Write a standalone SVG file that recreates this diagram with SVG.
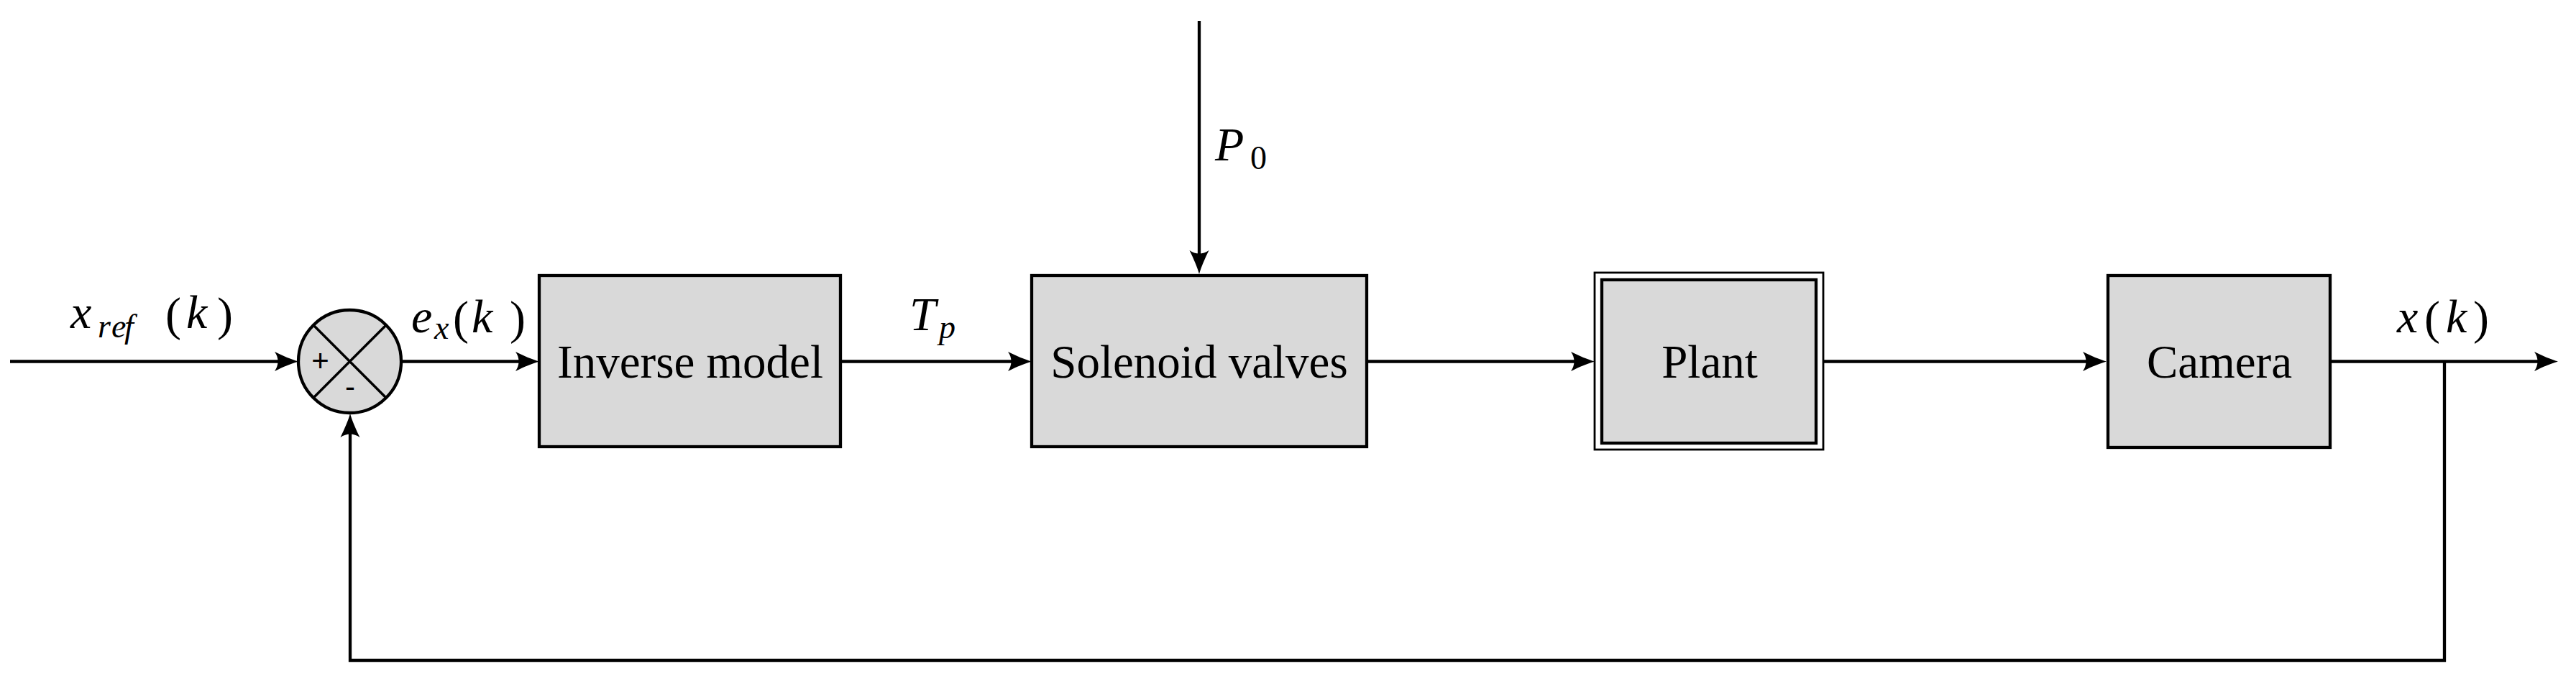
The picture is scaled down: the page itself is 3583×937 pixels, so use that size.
<svg xmlns="http://www.w3.org/2000/svg" width="3583" height="937" viewBox="0 0 3583 937">
<style>
.blk{fill:#d9d9d9;stroke:#000;stroke-width:4.3}
.thin{fill:none;stroke:#000;stroke-width:2.8}
.wire{fill:none;stroke:#000;stroke-width:4.3}
.lbl{font-family:"Liberation Serif","Times New Roman",serif;font-size:65px;fill:#000;text-anchor:middle}
.m{font-family:"Liberation Serif","Times New Roman",serif;font-size:66px;fill:#000}
.i{font-style:italic}
.s{font-size:46px}
.sg{font-family:"Liberation Sans",Arial,sans-serif;font-size:42px;fill:#000;text-anchor:middle}
</style>
<defs>
<marker id="arr" markerUnits="userSpaceOnUse" viewBox="-36 -15 38 30" markerWidth="38" markerHeight="30" refX="-12" refY="0" orient="auto">
<path d="M0,0 C-9,-2.5 -22,-8 -33,-13.5 C-27,-5 -27,5 -33,13.5 C-22,8 -9,2.5 0,0 Z" fill="#000"/>
</marker>
</defs>
<rect width="3583" height="937" fill="#fff"/>
<g id="connectors">
<path class="wire" d="M14,502.5 H403" marker-end="url(#arr)"/>
<path class="wire" d="M559,502.5 H738" marker-end="url(#arr)"/>
<path class="wire" d="M1169,502.5 H1423" marker-end="url(#arr)"/>
<path class="wire" d="M1901,502.5 H2206" marker-end="url(#arr)"/>
<path class="wire" d="M2536,502.5 H2918" marker-end="url(#arr)"/>
<path class="wire" d="M3241,502.5 H3546" marker-end="url(#arr)"/>
<path class="wire" d="M1668,29 V369" marker-end="url(#arr)"/>
<path class="wire" d="M3400,502.5 V918 H487 V587" marker-end="url(#arr)"/>
</g>
<g id="sum">
<circle cx="486.5" cy="502.5" r="71.5" class="blk" stroke-width="4"/>
<path d="M436,452 L537,553 M537,452 L436,553" stroke="#000" stroke-width="3.5" fill="none"/>
<text class="sg" x="445.5" y="516">+</text>
<text class="sg" x="487" y="552">-</text>
</g>
<g id="inverse-model">
<rect class="blk" x="750" y="383" width="419" height="238"/>
<text class="lbl" x="960" y="525">Inverse model</text>
</g>
<g id="solenoid-valves">
<rect class="blk" x="1435" y="383" width="466" height="238"/>
<text class="lbl" x="1668" y="525">Solenoid valves</text>
</g>
<g id="plant">
<rect class="thin" x="2218" y="379" width="318" height="246" fill="#fff"/>
<rect class="blk" x="2228" y="389" width="298" height="227"/>
<text class="lbl" x="2378" y="525">Plant</text>
</g>
<g id="camera">
<rect class="blk" x="2932" y="383" width="309" height="239"/>
<text class="lbl" x="3087" y="525">Camera</text>
</g>
<g id="labels">
<text class="m"><tspan class="i" x="98" y="456">x</tspan><tspan class="i s" x="136" y="469">r</tspan><tspan class="i s" x="155" y="469">e</tspan><tspan class="i s" x="173" y="469">f</tspan><tspan x="230" y="459">(</tspan><tspan class="i" x="259" y="456">k</tspan><tspan x="302" y="459">)</tspan></text>
<text class="m"><tspan class="i" x="572" y="462">e</tspan><tspan class="i s" x="604" y="471">x</tspan><tspan x="630" y="464">(</tspan><tspan class="i" x="656" y="462">k</tspan><tspan x="709" y="464">)</tspan></text>
<text class="m"><tspan class="i" x="1265" y="459">T</tspan><tspan class="i s" x="1306" y="470">p</tspan></text>
<text class="m"><tspan class="i" x="1690" y="223">P</tspan><tspan class="s" x="1739" y="235">0</tspan></text>
<text class="m"><tspan class="i" x="3334" y="462">x</tspan><tspan x="3372" y="464">(</tspan><tspan class="i" x="3402" y="462">k</tspan><tspan x="3440" y="464">)</tspan></text>
</g>
</svg>
